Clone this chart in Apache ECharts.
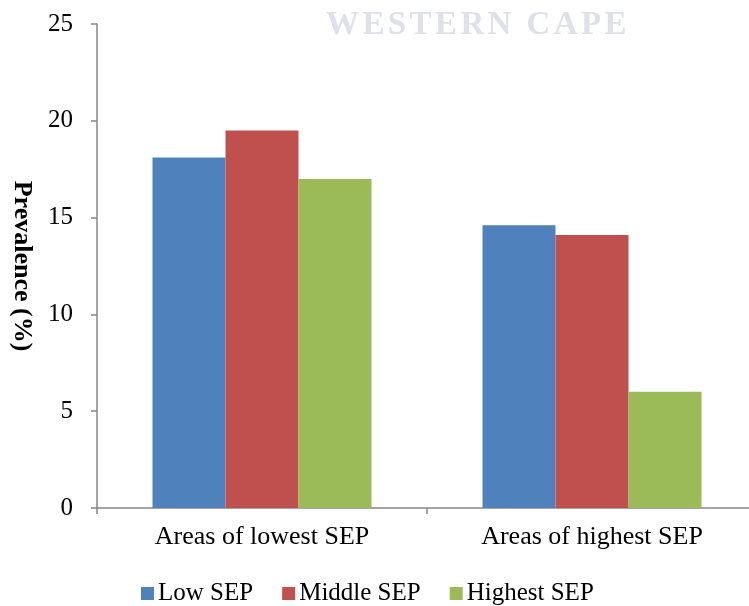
<!DOCTYPE html>
<html>
<head>
<meta charset="utf-8">
<script src="https://cdn.jsdelivr.net/npm/echarts@6/dist/echarts.min.js"></script>
<style>
  html, body { margin: 0; padding: 0; background: #ffffff; }
  #chart { width: 749px; height: 606px; }
</style>
</head>
<body>
<div id="chart"></div>
<script>
// Prevalence by area-level and individual socioeconomic position (SEP)
var categories = ['Areas of lowest SEP', 'Areas of highest SEP'];
var lowSEP = [18.1, 14.6];
var middleSEP = [19.5, 14.1];
var highestSEP = [17.0, 6.0];
var yTicks = [0, 5, 10, 15, 20, 25];

var serif = '"Liberation Serif", "Times New Roman", serif';
var axisGray = '#868686';

// Letter-spaced watermark heading, laid out one glyph at a time
var markText = 'WESTERN CAPE';
var markFont = 'bold 33px ' + serif;
var markSpacing = 3.4;
var ctx = document.createElement('canvas').getContext('2d');
ctx.font = markFont;
var markGlyphs = [];
var cursor = 0;
for (var i = 0; i < markText.length; i++) {
  var ch = markText[i];
  markGlyphs.push({
    type: 'text', x: cursor, y: 0, silent: true,
    style: { text: ch, font: markFont, fill: '#dfe0ea' }
  });
  cursor += ctx.measureText(ch).width + markSpacing;
}

var chart = echarts.init(document.getElementById('chart'), null, { renderer: 'canvas' });

chart.setOption({
  animation: false,
  backgroundColor: '#ffffff',
  graphic: [{
    type: 'group',
    left: 326,
    top: 9,
    silent: true,
    children: markGlyphs
  }],
  grid: { left: 97, width: 660, top: 24, bottom: 98, containLabel: false, outerBoundsMode: 'none' },
  legend: {
    top: 576,
    left: 136,
    itemWidth: 13,
    itemHeight: 13,
    itemGap: 29,
    icon: 'rect',
    textStyle: { fontFamily: serif, fontSize: 25, color: '#000000', padding: [0, 0, 0, -1] },
    data: ['Low SEP', 'Middle SEP', 'Highest SEP']
  },
  xAxis: {
    type: 'category',
    data: categories,
    axisLine: { lineStyle: { color: axisGray, width: 1.5 } },
    axisTick: { show: true, length: 6, lineStyle: { color: axisGray, width: 1.5 } },
    axisLabel: { fontFamily: serif, fontSize: 26, color: '#000000', margin: 16 }
  },
  yAxis: {
    type: 'value',
    min: yTicks[0],
    max: yTicks[yTicks.length - 1],
    interval: 5,
    name: 'Prevalence (%)',
    nameLocation: 'middle',
    nameGap: 62,
    nameRotate: -90,
    nameTextStyle: { fontFamily: serif, fontSize: 26, fontWeight: 'bold', color: '#000000' },
    axisLine: { show: true, lineStyle: { color: axisGray, width: 1.5 } },
    axisTick: { show: true, length: 6, lineStyle: { color: axisGray, width: 1.5 } },
    splitLine: { show: false },
    axisLabel: { fontFamily: serif, fontSize: 25, color: '#000000', margin: 24 }
  },
  series: [
    { name: 'Low SEP', type: 'bar', data: lowSEP, barWidth: 73, barGap: '0%', itemStyle: { color: '#4f81bd' } },
    { name: 'Middle SEP', type: 'bar', data: middleSEP, barWidth: 73, barGap: '0%', itemStyle: { color: '#c0504d' } },
    { name: 'Highest SEP', type: 'bar', data: highestSEP, barWidth: 73, barGap: '0%', itemStyle: { color: '#9bbb59' } }
  ]
});
</script>
</body>
</html>
